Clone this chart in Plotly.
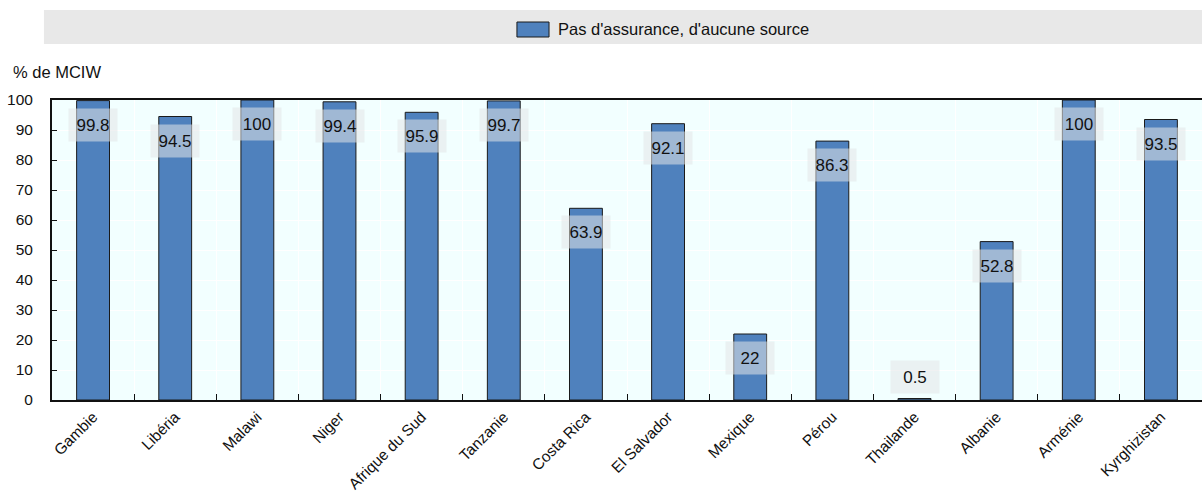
import plotly.graph_objects as go

countries = ["Gambie", "Libéria", "Malawi", "Niger", "Afrique du Sud", "Tanzanie",
             "Costa Rica", "El Salvador", "Mexique", "Pérou", "Thailande", "Albanie",
             "Arménie", "Kyrghizistan"]
no_insurance = [99.8, 94.5, 100, 99.4, 95.9, 99.7, 63.9, 92.1, 22, 86.3, 0.5, 52.8, 100, 93.5]
value_text = ["99.8", "94.5", "100", "99.4", "95.9", "99.7", "63.9", "92.1", "22", "86.3",
              "0.5", "52.8", "100", "93.5"]
series_name = "Pas d'assurance, d'aucune source"
y_title = "% de MCIW"

FONT = "Liberation Sans, Arial, sans-serif"
BAR = "#4F81BD"
INK = "#111111"

fig = go.Figure()
fig.add_trace(go.Bar(
    x=countries, y=no_insurance, name=series_name,
    marker=dict(color=BAR, line=dict(color="#1a1a1a", width=1)),
    width=0.4, hoverinfo="x+y", showlegend=False,
))

# value labels: inside near the top, above the bar when it is too short
for c, v, t in zip(countries, no_insurance, value_text):
    shift = -24 if v > 10 else 22
    fig.add_annotation(
        x=c, y=v, text=t, showarrow=False, yshift=shift,
        font=dict(family=FONT, size=17, color=INK),
        bgcolor="rgba(228,230,232,0.55)", width=44, height=28,
        borderpad=2,
    )

# grey legend band with a single swatch + caption
fig.add_shape(type="rect", xref="paper", yref="paper",
              x0=-0.007, x1=1.01, y0=1.187, y1=1.3,
              fillcolor="#E8E8E8", line=dict(width=0), layer="below")
fig.add_shape(type="rect", xref="paper", yref="paper",
              x0=0.4043, x1=0.4322, y0=1.21, y1=1.26,
              fillcolor=BAR, line=dict(color="#1a1a1a", width=1))
fig.add_annotation(xref="paper", yref="paper", x=0.4383, y=1.235, xanchor="left",
                   yanchor="middle", text=series_name, showarrow=False,
                   font=dict(family=FONT, size=16.5, color=INK))

fig.add_annotation(xref="paper", yref="paper", x=-0.036, y=1.093, xanchor="left",
                   yanchor="middle", text=y_title, showarrow=False,
                   font=dict(family=FONT, size=16.5, color=INK))

fig.update_layout(
    width=1202, height=492,
    margin=dict(l=52, r=0, t=100, b=92, autoexpand=False),
    paper_bgcolor="white", plot_bgcolor="#F2FFFF",
    font=dict(family=FONT, size=15, color=INK),
    showlegend=False,
    bargap=0.6,
)
fig.update_xaxes(
    type="category", tickson="boundaries", ticks="inside", ticklen=6,
    tickcolor=INK, showgrid=True, gridcolor="white", gridwidth=1,
    showline=True, linecolor=INK, linewidth=2, mirror=True,
    tickangle=-45, tickfont=dict(family=FONT, size=15.4, color=INK),
    range=[-0.5, 13.5], automargin=False,
)
fig.update_yaxes(
    range=[0, 100], dtick=10, ticks="inside", ticklen=5, tickcolor=INK,
    showgrid=True, gridcolor="white", gridwidth=1,
    showline=True, linecolor=INK, linewidth=2, zeroline=False,
    tickfont=dict(family=FONT, size=15.5, color=INK), ticklabelstandoff=14,
    automargin=False,
)

fig.write_html("out.html")
